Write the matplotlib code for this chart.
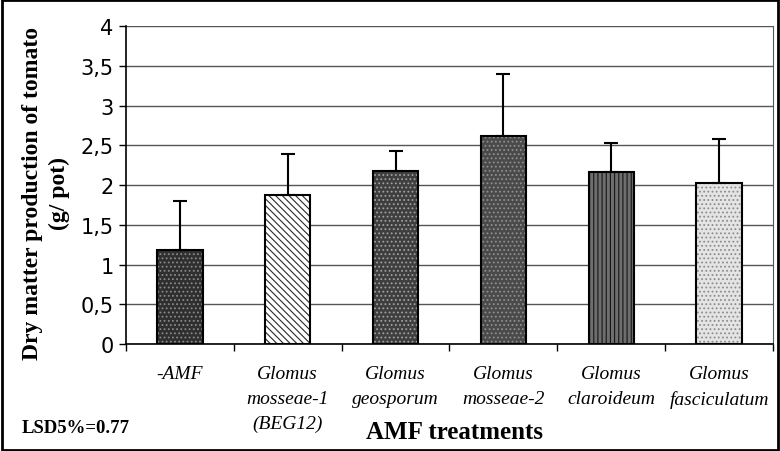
import matplotlib
matplotlib.use("Agg")
import matplotlib.pyplot as plt
from matplotlib.patches import Rectangle
from matplotlib.ticker import FuncFormatter, FixedLocator

# data
treatments = [
    "-AMF",
    "Glomus\nmosseae-1\n(BEG12)",
    "Glomus\ngeosporum",
    "Glomus\nmosseae-2",
    "Glomus\nclaroideum",
    "Glomus\nfasciculatum",
]
dry_matter = [1.18, 1.88, 2.18, 2.62, 2.16, 2.03]
error_up = [0.62, 0.51, 0.25, 0.78, 0.37, 0.55]
y_ticks = [0, 0.5, 1, 1.5, 2, 2.5, 3, 3.5, 4]

# fill / hatch style per bar (face, hatch, hatch colour)
styles = [
    ("#2f2f2f", "....", "#8a8a8a"),
    ("#ffffff", "\\\\\\\\\\", "#2a2a2a"),
    ("#3e3e3e", "....", "#a0a0a0"),
    ("#4a4a4a", "....", "#909090"),
    ("#6e6e6e", "||||", "#151515"),
    ("#e4e4e4", "....", "#8c8c8c"),
]

plt.rcParams["hatch.linewidth"] = 0.8

fig = plt.figure(figsize=(7.8, 4.52), dpi=100)
ax = fig.add_axes([0.1615, 0.2367, 0.8295, 0.7033])

x = list(range(len(treatments)))
for i, (face, hatch, hcol) in enumerate(styles):
    ax.bar(x[i], dry_matter[i], width=0.42, color=face, hatch=hatch,
           edgecolor=hcol, linewidth=0, zorder=3)
ax.bar(x, dry_matter, width=0.42, fill=False, edgecolor="black",
       linewidth=1.5, zorder=4)
ax.errorbar(x, dry_matter, yerr=[[0] * len(x), error_up], fmt="none",
            ecolor="black", elinewidth=1.5, capsize=5, capthick=1.5, zorder=5)

ax.set_xlim(-0.5, len(x) - 0.5)
ax.set_ylim(0, 4)
ax.set_yticks(y_ticks)
ax.yaxis.set_major_formatter(FuncFormatter(lambda v, p: f"{v:g}".replace(".", ",")))
ax.yaxis.grid(True, color="#555555", linewidth=1.0, zorder=0)
ax.set_axisbelow(True)

ax.set_xticks(x)
ax.set_xticklabels(treatments, fontfamily="Liberation Serif", style="italic",
                   fontsize=14, linespacing=1.62, va="top")
ax.tick_params(axis="x", which="major", length=0, pad=15)
ax.xaxis.set_minor_locator(FixedLocator([i - 0.5 for i in range(len(x) + 1)]))
ax.tick_params(axis="x", which="minor", length=5, width=1, direction="out")
ax.tick_params(axis="y", length=5, width=1, pad=4, labelsize=15)

ax.spines["top"].set_visible(False)
ax.spines["left"].set_linewidth(1.2)
ax.spines["bottom"].set_linewidth(1.2)
ax.spines["right"].set_color("#555555")

# y label placed as figure text so both lines sit where the original has them
fig.text(0.059, 0.571, "Dry matter production of tomato\n(g/ pot)",
         fontfamily="Liberation Serif", fontweight="bold", fontsize=17,
         linespacing=1.35, rotation=90, ha="center", va="center")

fig.text(0.583, 0.044, "AMF treatments", fontfamily="Liberation Serif",
         fontweight="bold", fontsize=18, ha="center", va="center")
fig.text(0.028, 0.053, "LSD5%=0.77", fontfamily="Liberation Serif",
         fontweight="bold", fontsize=13.5, ha="left", va="center")

fig.patches.append(Rectangle((0.002, 0.003), 0.996, 0.994, transform=fig.transFigure,
                             fill=False, edgecolor="black", linewidth=2))

fig.savefig("out.png", dpi=100)
